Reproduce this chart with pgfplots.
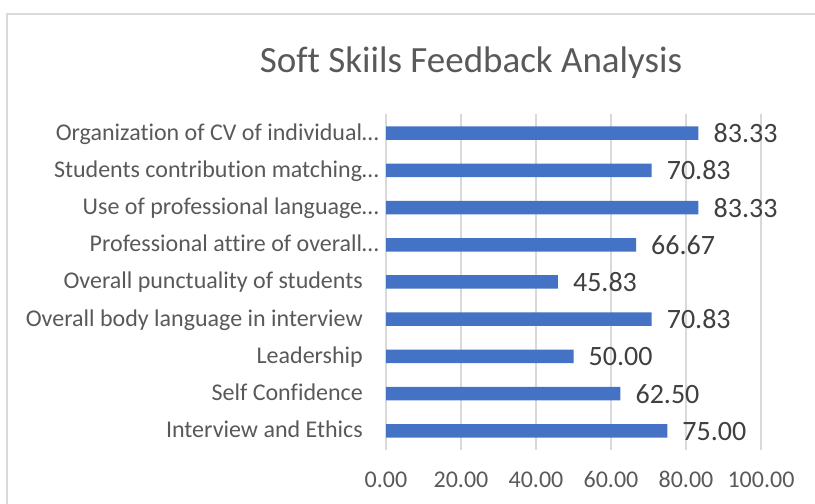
\documentclass[border=0pt]{standalone}
\usepackage{fontspec}
\setmainfont{Carlito}[Ligatures={NoCommon}]
\usepackage{pgfplots}
\pgfplotsset{compat=1.18}
\definecolor{barblue}{HTML}{4472C4}
\definecolor{txt}{HTML}{595959}
\definecolor{lbl}{HTML}{404040}
\definecolor{grd}{HTML}{D9D9D9}
\begin{document}
\begin{tikzpicture}
\path[use as bounding box] (0,0) rectangle (815bp,504bp);
\draw[grd, line width=2bp] (7bp,0) -- (7bp,489.5bp) -- (815bp,489.5bp);
\node[anchor=base, text=txt, font=\fontsize{37bp}{44bp}\selectfont, inner sep=0pt] at (471bp,431bp) {Soft Skiils Feedback Analysis};
\begin{axis}[
  at={(386bp,54.4bp)}, anchor=south west,
  scale only axis, width=375bp, height=335.2bp,
  xbar, bar width=13.5bp,
  xmin=0, xmax=100, ymin=-0.5, ymax=8.5,
  xtick={0,20,...,100},
  ytick={0,...,8},
  yticklabels={
    Interview and Ethics\hspace*{16bp},
    Self Confidence\hspace*{16bp},
    Leadership\hspace*{16bp},
    Overall body language in interview\hspace*{16bp},
    Overall punctuality of students\hspace*{16bp},
    Professional attire of overall…,
    Use of professional language…,
    Students contribution matching…,
    Organization of CV of individual…},
  xmajorgrids, ymajorgrids=false,
  major grid style={grd, line width=1.2bp},
  axis line style={draw=none},
  major tick length=0pt,
  clip=false,
  xticklabel style={anchor=base, inner sep=0pt, yshift=-37.4bp, text=txt, font=\fontsize{24bp}{28bp}\selectfont,
    /pgf/number format/.cd, fixed, fixed zerofill, precision=2, assume math mode=true},
  yticklabel style={anchor=base east, inner sep=0pt, xshift=-7bp, yshift=-7bp, text=txt, font=\fontsize{24bp}{28bp}\selectfont},
  point meta=x,
  nodes near coords={\pgfmathprintnumber[fixed,fixed zerofill,precision=2,assume math mode=true]{\pgfplotspointmeta}},
  nodes near coords style={anchor=base west, inner sep=0pt, xshift=15bp, yshift=-9.5bp, text=lbl, font=\fontsize{28bp}{34bp}\selectfont},
]
\addplot[fill=barblue, draw=none] coordinates {
  (75.00,0) (62.50,1) (50.00,2) (70.83,3) (45.83,4) (66.67,5) (83.33,6) (70.83,7) (83.33,8)
};
\end{axis}
\end{tikzpicture}
\end{document}
